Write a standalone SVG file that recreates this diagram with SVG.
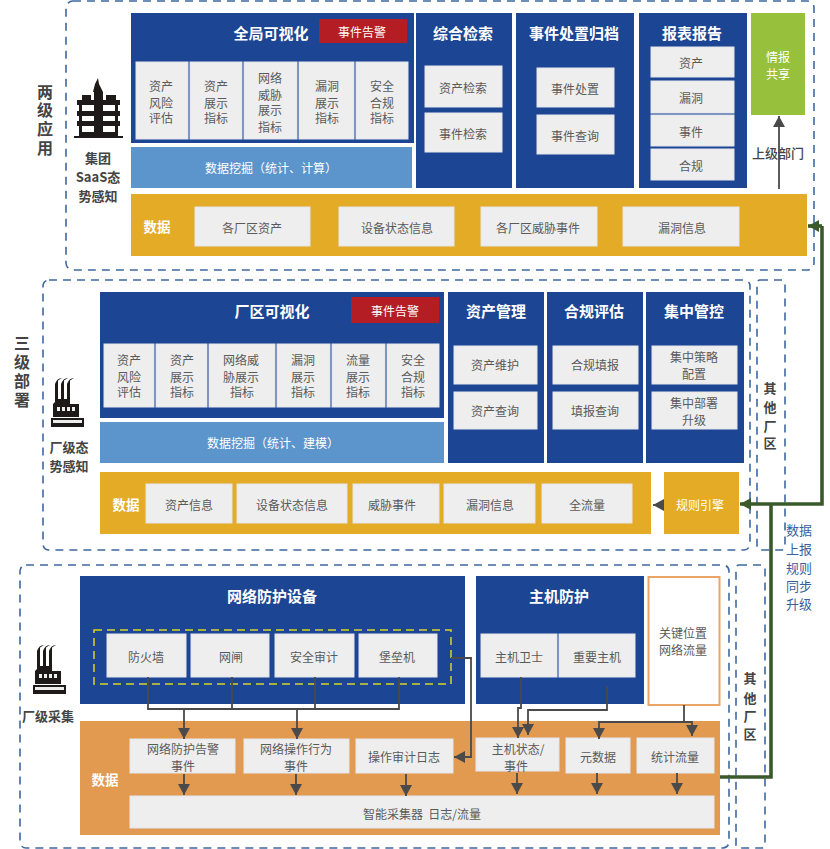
<svg xmlns="http://www.w3.org/2000/svg" width="830" height="849" viewBox="0 0 830 849">
<style>
text{font-family:"Noto Sans CJK SC","Noto Sans",sans-serif;text-anchor:middle;dominant-baseline:central;transform:translateY(-1px)}
.zone{fill:none;stroke:#3f689f;stroke-width:1.6;stroke-dasharray:8 6}
.blue{fill:#1c4593}
.cell{fill:#eeeeee;stroke:#e3e6ee;stroke-width:1}
.mine{fill:#5b95cb}
.gold{fill:#e4ab26}
.orange{fill:#e29a50}
.t{font-size:12px;fill:#5a5a5a}
.h{font-size:15px;font-weight:700;fill:#fff}
.w{font-size:12px;fill:#fff}
.wb{font-size:13.5px;font-weight:700;fill:#fff}
.lb{font-size:13px;font-weight:700;fill:#444}
.side{font-size:16px;font-weight:700;fill:#444}
.side2{font-size:13px;font-weight:700;fill:#444}
.g{fill:none;stroke:#4a4a4a;stroke-width:1.8}
.gr{fill:none;stroke:#3a5a2b;stroke-width:3.6}
.ic{fill:#1f1a1a}
</style>
<defs>
<marker id="a" markerUnits="userSpaceOnUse" markerWidth="12" markerHeight="12" refX="11" refY="6" orient="auto"><path d="M0 0L11 6L0 12Z" fill="#4a4a4a"/></marker>
<marker id="ag" markerUnits="userSpaceOnUse" markerWidth="12" markerHeight="12" refX="11" refY="6" orient="auto"><path d="M0 0L11 6L0 12Z" fill="#3a5a2b"/></marker>
<g id="factory"><path class="ic" d="M5 17Q7 11 12 11L8 13.500L8 32L11 32L11 17Q13 11 18 11L14 13.500L14 32L17 32L17 17Q19 11 24 11L20 13.500L20 37L29 37L29 50L3 50L3 37L5 35Z" transform="translate(-1 -11)"/><rect class="ic" x="0" y="40" width="33" height="9"/><g fill="#eee"><rect x="6" y="29" width="3" height="4"/><rect x="11" y="29" width="3" height="4"/><rect x="16" y="29" width="3" height="4"/><rect x="21" y="29" width="3" height="4"/><rect x="2" y="42" width="29" height="3"/></g></g>
</defs>

<g id="zones">
<rect class="zone" x="66" y="1" width="748" height="269" rx="7"/>
<rect class="zone" x="43" y="280" width="707" height="270" rx="6"/>
<rect class="zone" x="757" y="280" width="28" height="270" rx="3"/>
<rect class="zone" x="20" y="565" width="709" height="283" rx="6"/>
<rect class="zone" x="736" y="565" width="29" height="283" rx="3"/>
</g>

<g id="tier1-labels">
<text class="side" x="45" y="92">两</text><text class="side" x="45" y="110">级</text><text class="side" x="45" y="129">应</text><text class="side" x="45" y="148">用</text>
<g id="building">
<path class="ic" d="M98 78L99 84L103 92L93 92L95 84ZM94 92H103V135H94Z"/>
<path class="ic" d="M82 95H91V100H82ZM106 95H116V100H106ZM77 100H120V105H77ZM77 111H120V116H77ZM77 121H120V126H77ZM79 105H82V135H79ZM115 105H118V135H115ZM79 132H118V136H79ZM74 136H123V138H74Z"/>
</g>
<text class="lb" x="98" y="158">集团</text><text class="lb" x="98" y="177">SaaS态</text><text class="lb" x="98" y="196">势感知</text>
</g>

<g id="global-vis">
<rect class="blue" x="131" y="13" width="283" height="130"/>
<text class="h" x="271" y="33">全局可视化</text>
<rect x="319" y="19" width="88" height="24" fill="#b51d24"/><text class="w" x="362" y="32">事件告警</text>
<rect class="cell" x="136" y="62" width="52" height="77"/><text class="t" x="161" y="86">资产</text><text class="t" x="161" y="103">风险</text><text class="t" x="161" y="118">评估</text>
<rect class="cell" x="190" y="62" width="52" height="77"/><text class="t" x="216" y="86">资产</text><text class="t" x="216" y="103">展示</text><text class="t" x="216" y="118">指标</text>
<rect class="cell" x="244" y="62" width="53" height="77"/><text class="t" x="270" y="78">网络</text><text class="t" x="270" y="95">威胁</text><text class="t" x="270" y="110">展示</text><text class="t" x="270" y="127">指标</text>
<rect class="cell" x="299" y="62" width="55" height="77"/><text class="t" x="327" y="86">漏洞</text><text class="t" x="327" y="103">展示</text><text class="t" x="327" y="118">指标</text>
<rect class="cell" x="356" y="62" width="52" height="77"/><text class="t" x="382" y="86">安全</text><text class="t" x="382" y="103">合规</text><text class="t" x="382" y="118">指标</text>
</g>
<g id="mining1"><rect class="mine" x="131" y="147" width="281" height="41"/><text class="w" x="271" y="168">数据挖掘（统计、计算）</text></g>
<g id="search"><rect class="blue" x="416" y="13" width="96" height="175"/><text class="h" x="463" y="33">综合检索</text>
<rect class="cell" x="425" y="66" width="77" height="41"/><text class="t" x="463" y="88">资产检索</text>
<rect class="cell" x="425" y="113" width="77" height="39"/><text class="t" x="463" y="134">事件检索</text></g>
<g id="incident"><rect class="blue" x="516" y="13" width="118" height="175"/><text class="h" x="574" y="33">事件处置归档</text>
<rect class="cell" x="537" y="68" width="77" height="39"/><text class="t" x="575" y="89">事件处置</text>
<rect class="cell" x="537" y="115" width="77" height="39"/><text class="t" x="575" y="136">事件查询</text></g>
<g id="reports"><rect class="blue" x="639" y="13" width="108" height="175"/><text class="h" x="692" y="33">报表报告</text>
<rect class="cell" x="651" y="47" width="83" height="30"/><text class="t" x="691" y="63">资产</text>
<rect class="cell" x="651" y="81" width="83" height="32"/><text class="t" x="691" y="98">漏洞</text>
<rect class="cell" x="651" y="115" width="83" height="31"/><text class="t" x="691" y="132">事件</text>
<rect class="cell" x="651" y="149" width="83" height="31"/><text class="t" x="691" y="166">合规</text></g>
<g id="intel"><rect x="751" y="13" width="54" height="102" fill="#97c03c"/><text class="w" x="778" y="57">情报</text><text class="w" x="778" y="74">共享</text></g>
<g id="data1"><rect class="gold" x="131" y="194" width="676" height="62"/><text class="wb" x="157" y="227">数据</text>
<rect class="cell" x="195" y="207" width="115" height="39"/><text class="t" x="252" y="228">各厂区资产</text>
<rect class="cell" x="339" y="207" width="115" height="39"/><text class="t" x="397" y="228">设备状态信息</text>
<rect class="cell" x="481" y="207" width="116" height="39"/><text class="t" x="538" y="228">各厂区威胁事件</text>
<rect class="cell" x="623" y="207" width="116" height="39"/><text class="t" x="682" y="228">漏洞信息</text></g>

<g id="tier2-labels">
<text class="side" x="22" y="343">三</text><text class="side" x="22" y="362">级</text><text class="side" x="22" y="381">部</text><text class="side" x="22" y="400">署</text>
<use href="#factory" x="51" y="378"/>
<text class="lb" x="69" y="447">厂级态</text><text class="lb" x="69" y="466">势感知</text>
<text class="side2" x="770" y="388">其</text><text class="side2" x="770" y="407">他</text><text class="side2" x="770" y="426">厂</text><text class="side2" x="770" y="443">区</text>
</g>
<g id="plant-vis"><rect class="blue" x="100" y="292" width="344" height="126"/><text class="h" x="272" y="311">厂区可视化</text>
<rect x="351" y="297" width="88" height="26" fill="#b51d24"/><text class="w" x="395" y="311">事件告警</text>
<rect class="cell" x="104" y="344" width="50" height="63"/><text class="t" x="129" y="360">资产</text><text class="t" x="129" y="377">风险</text><text class="t" x="129" y="392">评估</text>
<rect class="cell" x="156" y="344" width="51" height="63"/><text class="t" x="182" y="360">资产</text><text class="t" x="182" y="377">展示</text><text class="t" x="182" y="392">指标</text>
<rect class="cell" x="209" y="344" width="66" height="63"/><text class="t" x="241" y="360">网络威</text><text class="t" x="241" y="377">胁展示</text><text class="t" x="242" y="392">指标</text>
<rect class="cell" x="277" y="344" width="53" height="63"/><text class="t" x="303" y="360">漏洞</text><text class="t" x="303" y="377">展示</text><text class="t" x="303" y="392">指标</text>
<rect class="cell" x="332" y="344" width="53" height="63"/><text class="t" x="358" y="360">流量</text><text class="t" x="358" y="377">展示</text><text class="t" x="358" y="392">指标</text>
<rect class="cell" x="387" y="344" width="52" height="63"/><text class="t" x="413" y="360">安全</text><text class="t" x="413" y="377">合规</text><text class="t" x="413" y="392">指标</text></g>
<g id="mining2"><rect class="mine" x="100" y="422" width="344" height="41"/><text class="w" x="273" y="443">数据挖掘（统计、建模）</text></g>
<g id="asset-mgmt"><rect class="blue" x="448" y="292" width="96" height="171"/><text class="h" x="496" y="311">资产管理</text>
<rect class="cell" x="454" y="346" width="83" height="38"/><text class="t" x="495" y="365">资产维护</text>
<rect class="cell" x="454" y="392" width="83" height="37"/><text class="t" x="495" y="411">资产查询</text></g>
<g id="compliance"><rect class="blue" x="547" y="292" width="96" height="171"/><text class="h" x="594" y="311">合规评估</text>
<rect class="cell" x="553" y="346" width="85" height="38"/><text class="t" x="595" y="365">合规填报</text>
<rect class="cell" x="553" y="392" width="85" height="37"/><text class="t" x="595" y="411">填报查询</text></g>
<g id="central"><rect class="blue" x="646" y="292" width="98" height="171"/><text class="h" x="694" y="311">集中管控</text>
<rect class="cell" x="652" y="346" width="85" height="38"/><text class="t" x="694" y="357">集中策略</text><text class="t" x="694" y="374">配置</text>
<rect class="cell" x="652" y="392" width="85" height="37"/><text class="t" x="694" y="403">集中部署</text><text class="t" x="694" y="420">升级</text></g>
<g id="data2"><rect class="gold" x="100" y="472" width="551" height="62"/><text class="wb" x="126" y="505">数据</text>
<rect class="cell" x="146" y="484" width="86" height="39"/><text class="t" x="189" y="505">资产信息</text>
<rect class="cell" x="237" y="484" width="110" height="39"/><text class="t" x="292" y="505">设备状态信息</text>
<rect class="cell" x="353" y="484" width="86" height="39"/><text class="t" x="392" y="505">威胁事件</text>
<rect class="cell" x="444" y="484" width="91" height="39"/><text class="t" x="490" y="505">漏洞信息</text>
<rect class="cell" x="542" y="484" width="90" height="39"/><text class="t" x="587" y="505">全流量</text></g>
<g id="rules"><rect class="gold" x="664" y="472" width="75" height="62"/><text class="w" x="700" y="505">规则引擎</text></g>

<g id="tier3-labels">
<use href="#factory" x="33" y="645"/>
<text class="lb" x="48" y="716">厂级采集</text>
<text class="side2" x="750" y="678">其</text><text class="side2" x="750" y="698">他</text><text class="side2" x="750" y="716">厂</text><text class="side2" x="750" y="734">区</text>
</g>
<g id="net-devices"><rect class="blue" x="80" y="576" width="385" height="128"/><text class="h" x="272" y="596">网络防护设备</text>
<rect x="94" y="630" width="357" height="54" fill="none" stroke="#d7d42a" stroke-width="1.5" stroke-dasharray="8 5"/>
<rect class="cell" x="107" y="634" width="79" height="43"/><text class="t" x="146" y="657">防火墙</text>
<rect class="cell" x="191" y="634" width="78" height="43"/><text class="t" x="231" y="657">网闸</text>
<rect class="cell" x="275" y="634" width="79" height="43"/><text class="t" x="314" y="657">安全审计</text>
<rect class="cell" x="359" y="634" width="78" height="43"/><text class="t" x="397" y="657">堡垒机</text></g>
<g id="host"><rect class="blue" x="476" y="576" width="168" height="128"/><text class="h" x="559" y="596">主机防护</text>
<rect class="cell" x="481" y="634" width="76" height="43"/><text class="t" x="519" y="657">主机卫士</text>
<rect class="cell" x="559" y="634" width="76" height="43"/><text class="t" x="597" y="657">重要主机</text></g>
<g id="key-traffic"><rect x="648.500" y="577" width="71" height="128" fill="#fff" stroke="#eaa466" stroke-width="2"/><text class="t" x="683" y="633">关键位置</text><text class="t" x="683" y="650">网络流量</text></g>
<g id="data3"><rect class="orange" x="80" y="721" width="640" height="114"/><text class="wb" x="105" y="780">数据</text>
<rect class="cell" x="130" y="739" width="105" height="34"/><text class="t" x="183" y="749">网络防护告警</text><text class="t" x="183" y="766">事件</text>
<rect class="cell" x="244" y="739" width="105" height="34"/><text class="t" x="296" y="749">网络操作行为</text><text class="t" x="296" y="766">事件</text>
<rect class="cell" x="356" y="739" width="97" height="34"/><text class="t" x="404" y="757">操作审计日志</text>
<rect class="cell" x="476" y="738" width="83" height="33"/><text class="t" x="518" y="749">主机状态/</text><text class="t" x="516" y="766">事件</text>
<rect class="cell" x="566" y="738" width="64" height="35"/><text class="t" x="598" y="757">元数据</text>
<rect class="cell" x="637" y="738" width="77" height="35"/><text class="t" x="675" y="757">统计流量</text>
<rect class="cell" x="130" y="796" width="584" height="32"/><text class="t" x="422" y="814" style="white-space:pre">智能采集器  日志/流量</text></g>

<g id="connectors">
<path class="g" d="M779 189V116" marker-end="url(#a)"/>
<path class="g" d="M664 505H653" marker-end="url(#a)"/>
<path class="g" d="M148 677V709H399V677M232 677V709M315 677V709"/>
<path class="g" d="M184 709V739" marker-end="url(#a)"/>
<path class="g" d="M297 709V739" marker-end="url(#a)"/>
<path class="g" d="M184 774V795" marker-end="url(#a)"/>
<path class="g" d="M296 774V795" marker-end="url(#a)"/>
<path class="g" d="M406 774V796" marker-end="url(#a)"/>
<path class="g" d="M517 773V794" marker-end="url(#a)"/>
<path class="g" d="M597 773V794" marker-end="url(#a)"/>
<path class="g" d="M677 773V794" marker-end="url(#a)"/>
<path class="g" d="M451 658H471V757H454" marker-end="url(#a)"/>
<path class="g" d="M521 677V708H518V738" marker-end="url(#a)"/>
<path class="g" d="M607 686V710H528V735" marker-end="url(#a)"/>
<path class="g" d="M684 705V722H599V739" marker-end="url(#a)"/>
<path class="g" d="M684 722H692V736" marker-end="url(#a)"/>
<path class="gr" d="M720 777H771V504"/>
<path class="gr" d="M822 226V504H740" marker-end="url(#ag)"/>
<path class="gr" d="M822 226H808" marker-end="url(#ag)"/>
</g>
<g id="connector-labels">
<text class="lb" x="778" y="153" style="font-weight:500;font-size:13px">上级部门</text>
<g style="font-size:13px;fill:#3a5fa0"><text x="799" y="530">数据</text><text x="799" y="549">上报</text><text x="799" y="568">规则</text><text x="799" y="586">同步</text><text x="799" y="604">升级</text></g>
</g>
</svg>
